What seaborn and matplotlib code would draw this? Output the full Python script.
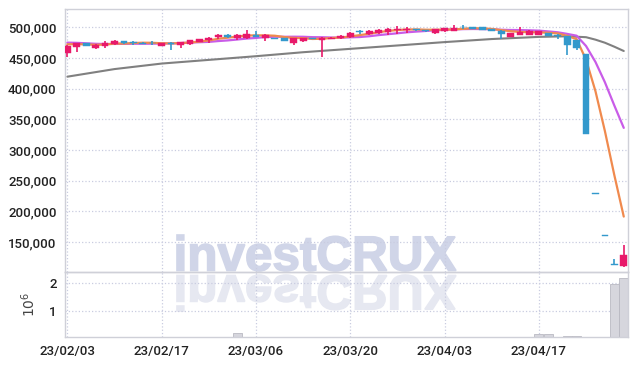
import pandas as pd
import seaborn as sns
import matplotlib.pyplot as plt
from matplotlib.textpath import TextPath
from matplotlib.patches import PathPatch
from matplotlib.font_manager import FontProperties
from matplotlib.transforms import Affine2D
from matplotlib.ticker import FuncFormatter

# --- Data (prices in thousand KRW, volume in millions of shares) ---
tick_pos = [0, 10, 20, 30, 40, 50]
tick_labels = ["23/02/03", "23/02/17", "23/03/06", "23/03/20", "23/04/03", "23/04/17"]

opens = [457.5, 468.5, 474.5, 466.5, 469.5, 473.5, 478, 475.5, 475, 475,
         470, 474.5, 471, 472.5, 476.5, 479.5, 484, 488, 482.5, 482.5,
         488, 482.5, 482.5, 482.5, 475, 477.5, 482.5, 479, 481.5, 483,
         484.5, 493.5, 489.5, 491, 492, 495, 495.5, 497, 495.5, 491,
         493.5, 494.5, 500.5, 500.5, 500, 497.5, 494.5, 484.5, 488, 488,
         488, 491, 488, 485.5, 479, 456.5, 229, 160.5, 112.5, 110]
highs = [470.5, 475, 475, 472.5, 477, 480, 478.5, 477, 476, 478,
         475, 476.5, 476.5, 479.5, 481.5, 484, 488.5, 490, 488.5, 495,
         494, 488.5, 483.5, 483, 483, 483, 483.5, 484, 484, 488,
         492, 496, 496, 497.5, 498.5, 502, 500.5, 498, 496.5, 497.5,
         499.5, 503.5, 504, 501, 500.5, 498, 495, 491.5, 500, 495,
         494, 491.5, 488.5, 486, 479.5, 456.5, 229, 160.5, 122, 145.5]
lows = [452, 460, 469, 465.5, 466, 472, 473, 472, 472.5, 471,
        469, 463.5, 466.5, 472, 475.5, 474.5, 481, 482, 479, 481,
        484, 478.5, 480.5, 477, 472, 476.5, 480.5, 451, 480.5, 480.5,
        483, 489, 488, 489.5, 488, 489, 490.5, 494.5, 493, 489,
        493, 494, 497, 497.5, 495, 494, 481.5, 484, 487.5, 487.5,
        487.5, 486, 481.5, 455.5, 462.5, 326.5, 229, 160.5, 112, 109.5]
closes = [470, 474.5, 469.5, 471, 474.5, 478.5, 474.5, 474, 473.5, 474,
          474.5, 473.5, 476, 479, 481, 483.5, 488, 484.5, 488, 489.5,
          485, 488, 481.5, 477.5, 482.5, 482.5, 481.5, 483.5, 483.5, 486.5,
          491, 492.5, 494.5, 496, 497.5, 497.5, 497.5, 495, 493.5, 497,
          499, 499, 500, 498, 496, 494.5, 489.5, 491, 492, 493.5,
          493.5, 486.5, 485.5, 472, 466.5, 326.5, 229, 160.5, 112.5, 128.5]
# closes before the first visible day (needed for the moving averages)
prior_closes = [478, 477, 479, 478, 477.5, 473, 472, 474, 473]

volume = [0.04, 0.03, 0.03, 0.02, 0.03, 0.04, 0.03, 0.02, 0.02, 0.03,
          0.03, 0.04, 0.03, 0.04, 0.05, 0.04, 0.05, 0.06, 0.23, 0.05,
          0.04, 0.05, 0.03, 0.04, 0.05, 0.03, 0.03, 0.06, 0.03, 0.04,
          0.05, 0.04, 0.04, 0.05, 0.05, 0.04, 0.04, 0.03, 0.03, 0.04,
          0.04, 0.05, 0.04, 0.03, 0.04, 0.04, 0.06, 0.05, 0.04, 0.05,
          0.20, 0.20, 0.06, 0.13, 0.13, 0.05, 0.03, 0.05, 1.94, 2.17]

ma60_idx = [0, 5, 10, 15, 20, 25, 30, 35, 40, 45, 50, 53, 55, 56, 57, 58, 59]
ma60_vals = [419.6, 432, 441, 447, 453, 459.5, 465, 470.5, 476, 481,
             484.5, 485.5, 484, 480, 475, 468.5, 461.5]

# --- Build frame ---
df = pd.DataFrame({"open": opens, "high": highs, "low": lows, "close": closes, "volume": volume})
df[["open", "high", "low", "close"]] *= 1000
df["idx"] = range(len(df))
all_close = pd.Series(prior_closes + closes) * 1000
df["ma5"] = all_close.rolling(5).mean().iloc[len(prior_closes):].values
df["ma10"] = all_close.rolling(10).mean().iloc[len(prior_closes):].values
ma60 = pd.DataFrame({"idx": ma60_idx, "ma60": [v * 1000 for v in ma60_vals]})

up_color = "#e8196a"
down_color = "#3399cc"
grid_color = "#c9cce0"
spine_color = "#cfd0d8"

# --- Style ---
sns.set_theme(style="white")
plt.rcParams["font.family"] = ["Roboto", "DejaVu Sans"]

W, H = 637, 366
fig = plt.figure(figsize=(W / 100, H / 100), dpi=100)
fig.patch.set_facecolor("white")
ax = fig.add_axes([65 / W, 1 - 272 / H, (628 - 65) / W, (272 - 9) / H])
axv = fig.add_axes([65 / W, 1 - 337 / H, (628 - 65) / W, (337 - 272) / H], sharex=ax)

# --- Watermark with reflection ---
fp = FontProperties(family=["Liberation Sans", "DejaVu Sans"], weight="bold")
tp = TextPath((0, 0), "investCRUX", size=50, prop=fp)
ext = tp.get_extents()
sx = (456 - 177) / ext.width
sy = (271 - 235) / ext.height
to_fig = Affine2D().scale(1 / 100) + fig.dpi_scale_trans
t_main = Affine2D().translate(-ext.x0, -ext.y0).scale(sx, sy).translate(177, H - 271) + to_fig
t_refl = Affine2D().translate(-ext.x0, -ext.y0).scale(sx, -sy).translate(177, H - 275) + to_fig
fig.add_artist(PathPatch(tp, transform=t_main, facecolor="#d0d5e8", edgecolor="#d0d5e8",
                         linewidth=1.2, zorder=-1))
fig.add_artist(PathPatch(tp, transform=t_refl, facecolor="#e6e8f1", edgecolor="#e6e8f1",
                         linewidth=1.2, zorder=-1))

# --- Moving averages ---
sns.lineplot(data=ma60, x="idx", y="ma60", ax=ax, color="#808080", linewidth=1.5, zorder=2)
sns.lineplot(data=df, x="idx", y="ma10", ax=ax, color="#c95ce8", linewidth=1.6, zorder=3)
sns.lineplot(data=df, x="idx", y="ma5", ax=ax, color="#f08a4e", linewidth=1.6, zorder=4)

# --- Candles (drawn over the averages) ---
colors = [up_color if c > o else down_color for o, c in zip(df["open"], df["close"])]
body_bottom = df[["open", "close"]].min(axis=1)
body_height = (df["close"] - df["open"]).abs().clip(lower=1300)
ax.vlines(df["idx"], df["low"], df["high"], colors=colors, linewidth=1.2, zorder=5)
ax.bar(df["idx"], body_height, bottom=body_bottom, width=0.72, color=colors,
       edgecolor=colors, linewidth=0.3, zorder=6)

# --- Volume ---
axv.bar(df["idx"], df["volume"], width=0.95, color="#d6d6dd", edgecolor="#b9b9c2", linewidth=0.6, zorder=2)

# --- Axes formatting ---
ax.set_xlim(-0.25, 59.45)
ax.set_ylim(101000, 530000)
ax.set_yticks(range(150000, 500001, 50000))
ax.yaxis.set_major_formatter(FuncFormatter(lambda v, p: f"{int(v):,}"))
axv.set_ylim(0.09, 2.38)
axv.set_yticks([1, 2])
axv.set_xticks(tick_pos)
axv.set_xticklabels(tick_labels)
ax.set_xlabel("")
ax.set_ylabel("")
axv.set_xlabel("")
axv.set_ylabel(r"$10^6$", fontsize=10, color="#444444", labelpad=8)

for a in (ax, axv):
    a.set_facecolor("none")
    a.grid(True, linestyle=":", color=grid_color, linewidth=0.9)
    a.set_axisbelow(True)
    a.tick_params(length=0, labelsize=9.5, labelcolor="#222222", pad=6)
    for s in a.spines.values():
        s.set_color(spine_color)
        s.set_linewidth(1)
    for lab in a.get_xticklabels() + a.get_yticklabels():
        lab.set_fontweight("medium")
ax.tick_params(labelbottom=False)

fig.savefig("out.png", dpi=100)
